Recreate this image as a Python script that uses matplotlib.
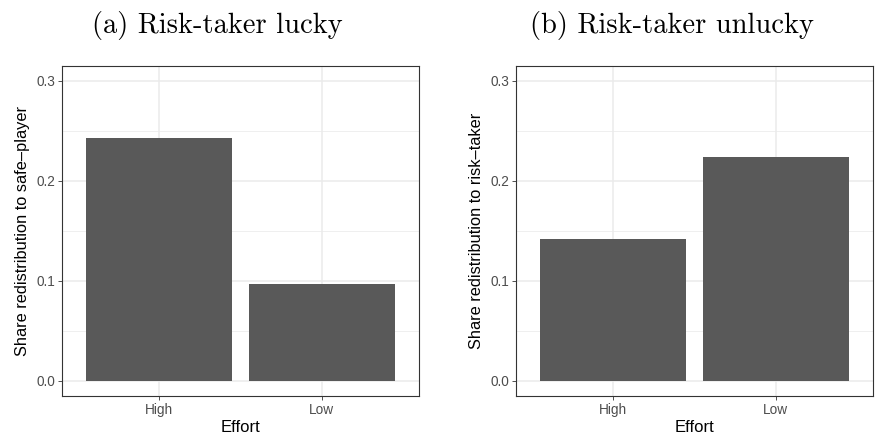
import matplotlib
matplotlib.use("Agg")
import matplotlib.pyplot as plt
from matplotlib.ticker import MultipleLocator, FormatStrFormatter

# data
effort = ["High", "Low"]
lucky_share = [0.243, 0.097]
unlucky_share = [0.142, 0.224]

titles = ["(a) Risk-taker lucky", "(b) Risk-taker unlucky"]
ylabels = ["Share redistribution to safe\u2013player",
           "Share redistribution to risk\u2013taker"]

plt.rcParams["font.family"] = ["Liberation Sans", "DejaVu Sans"]

W, H = 878, 437
fig = plt.figure(figsize=(W / 100, H / 100), dpi=100)


def px_axes(x0, y0, x1, y1):
    # pixel box (top-left origin) -> figure fraction
    return fig.add_axes([x0 / W, 1 - y1 / H, (x1 - x0) / W, (y1 - y0) / H])


boxes = [(62, 66, 419, 396), (516, 66, 873, 396)]
title_x = [217, 672]
ylabel_x = [23, 477]

for i, values in enumerate([lucky_share, unlucky_share]):
    ax = px_axes(*boxes[i])
    xs = list(range(1, len(effort) + 1))
    ax.bar(xs, values, width=0.9, color="#595959", zorder=3)

    ax.set_xlim(0.4, 2.6)
    ax.set_ylim(-0.015, 0.315)
    ax.set_xticks(xs)
    ax.set_xticklabels(effort)
    ax.yaxis.set_major_locator(MultipleLocator(0.1))
    ax.yaxis.set_minor_locator(MultipleLocator(0.05))
    ax.yaxis.set_major_formatter(FormatStrFormatter("%.1f"))

    ax.grid(which="major", color="#EBEBEB", linewidth=1.1, zorder=0)
    ax.grid(which="minor", axis="y", color="#EBEBEB", linewidth=0.55, zorder=0)
    ax.set_axisbelow(True)
    ax.tick_params(which="minor", length=0)
    ax.tick_params(which="major", length=3, width=0.6, color="#333333",
                   labelsize=9.8, labelcolor="#4D4D4D", pad=2)
    for s in ax.spines.values():
        s.set_color("#333333")
        s.set_linewidth(0.8)

    ax.set_xlabel("Effort", fontsize=12, labelpad=2.5)
    fig.text(ylabel_x[i] / W, 1 - 231 / H, ylabels[i], rotation=90,
             fontsize=11.8, ha="center", va="center")
    fig.text(title_x[i] / W, 1 - 25 / H, titles[i], family="cmr10",
             fontsize=20.5, ha="center", va="center")

fig.savefig("out.png", dpi=100)
